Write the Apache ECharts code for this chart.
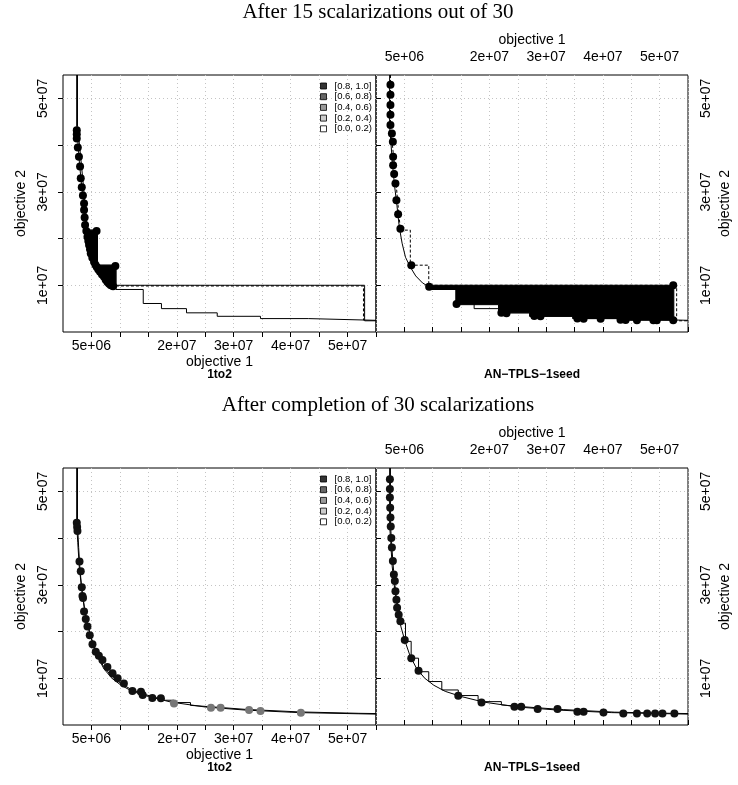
<!DOCTYPE html>
<html><head><meta charset="utf-8">
<script src="https://cdn.jsdelivr.net/npm/echarts@6/dist/echarts.min.js"></script>
<style>html,body{margin:0;padding:0;background:#fff}#c{width:738px;height:785px}</style>
</head><body><div id="c"></div>
<script>
// ---------- values (objective values in millions) ----------
const X_TICKS = [5,10,15,20,25,30,35,40,45,50,55];
const X_LABEL_VALUES = [5,20,30,40,50];
const X_LABEL_TEXT = ['5e+06','2e+07','3e+07','4e+07','5e+07'];
const Y_TICKS = [10,20,30,40,50];
const Y_LABEL_VALUES = [10,30,50];
const Y_LABEL_TEXT = ['1e+07','3e+07','5e+07'];
const legendLevels = ['[0.8, 1.0]','[0.6, 0.8)','[0.4, 0.6)','[0.2, 0.4)','[0.0, 0.2)'];
const algorithms = ['1to2','AN\u2212TPLS\u22121seed'];
const titles = ['After 15 scalarizations out of 30','After completion of 30 scalarizations'];

// top half (after 15 scalarizations)
const topBest = [[2.4,55],[2.4,44],[2.6,41],[2.9,36],[3.3,31],[3.7,27],[4.1,22.5],[4.6,19],[5.2,16],[6.0,14],[7.0,12],[8.2,10.5],[9.3,9.7],[9.3,9.1],[14.1,9.1],[14.1,6.1],[17.3,6.1],[17.3,5.0],[21.7,5.0],[21.7,4.1],[27.1,4.1],[27.1,3.36],[34.7,3.36],[34.7,2.87],[43.1,2.87],[43.1,2.5],[55,2.5]];
const topWorst = [[2.55,55],[2.55,44],[2.9,40],[3.3,35],[3.6,31],[3.9,27],[4.3,21.8],[6.05,21.8],[6.05,14.3],[9.3,14.3],[9.3,10.0],[53.0,10.0],[53.0,2.4],[55,2.4]];
const topMedianLeft = [[9.3,9.85],[52.8,9.85],[52.8,2.5]];
const topFillLeft = [[4.0,21.8],[6.05,21.8],[6.05,14.3],[9.3,14.3],[9.3,9.7],[8.2,10.5],[7.0,12],[6.0,14],[5.2,16],[4.6,19],[4.1,21.8]];
const topFillRight = [[9.3,10.0],[52.5,10.0],[52.5,2.5],[43.1,2.5],[43.1,2.87],[34.7,2.87],[34.7,3.36],[27.1,3.36],[27.1,4.1],[21.6,4.1],[21.6,5.85],[14.1,5.85],[14.1,9.1],[9.3,9.1]];
const topDotsLeft = [[2.42,43.2],[2.42,42.3],[2.42,41.4],[2.6,39.5],[2.8,37.5],[3.0,35.4],[3.12,32.9],[3.3,31],[3.5,29.2],[3.7,27.5],[3.7,26.1],[3.8,24.5],[3.88,22.9],[4.1,21.6],[4.3,20.4],[4.45,19.5],[4.58,18.6],[4.75,17.7],[4.88,16.8],[5.15,15.9],[5.46,15.0],[5.7,14.4],[5.93,13.9],[6.2,13.4],[6.5,12.9],[6.85,12.3],[7.2,11.8],[7.5,11.2],[7.8,10.7],[8.1,10.3],[8.4,10.0],[8.8,9.8],[5.9,21.6],[9.2,14.1]];
const topDotsRight = [[2.55,52.9],[2.55,50.8],[2.55,48.6],[2.55,46.5],[2.55,44.3],[2.8,42.5],[2.97,40.7],[3.02,37.5],[3.02,35.7],[3.2,33.8],[3.43,31.8],[3.6,28.2],[3.9,25.2],[4.3,22.1],[6.22,14.3],[9.37,9.66],[14.2,6.0],[22.1,4.1],[23.0,4.0],[27.9,3.4],[29.0,3.35],[35.5,2.9],[36.6,2.85],[39.6,2.85],[43.1,2.6],[44.0,2.55],[46.0,2.5],[48.9,2.5],[49.5,2.5],[52.4,2.5],[52.4,10.0]];

// bottom half (after completion)
const botBest = [[2.4,55],[2.4,43],[2.6,39],[2.85,34],[3.2,30],[3.55,27],[3.9,24],[4.4,21],[5.1,18],[6.0,14.8],[7.2,12],[8.6,10],[10.2,8.5],[12.2,7.2],[15,6.1],[19,4.9],[25,3.85],[32,3.2],[41.5,2.65],[52,2.4],[55,2.33]];
const botWorstLeft = [[2.55,55],[2.55,43],[2.75,38],[3.0,33],[3.4,28],[3.8,24.5],[4.3,21.5],[5.0,18.5],[5.9,15.5],[7.0,12.8],[8.4,10.6],[10,9],[12,7.6],[14.5,6.5],[18,5.3],[19.5,5.3],[19.5,4.8],[22.4,4.8],[22.4,4.2],[26,3.9],[32,3.35],[41.5,2.8],[52,2.5],[55,2.45]];
const botWorstRight = [[2.55,55],[2.55,43],[2.8,38],[3.1,33],[3.5,28],[3.9,25],[4.3,21.8],[5.2,21.8],[5.2,17.9],[6.2,17.9],[6.2,14.3],[7.5,14.3],[7.5,11.4],[9.3,11.4],[9.3,9.3],[11.6,9.3],[11.6,7.5],[14.5,7.5],[14.5,6.3],[18,6.3],[18,5.0],[22.1,5.0],[22.1,4.3],[26,3.9],[33,3.3],[42,2.75],[52,2.5],[55,2.45]];
const botDotsLeft = [[2.42,43.3],[2.48,42.4],[2.54,41.5],[2.9,35],[3.12,32.9],[3.3,29.5],[3.42,27.6],[3.52,27.2],[3.7,24.3],[4.0,22.7],[4.3,21.1],[4.7,19.2],[5.18,17.3],[5.76,15.7],[6.3,14.8],[6.93,13.9],[7.8,12.4],[8.7,11.1],[9.6,10.0],[10.7,8.9],[12.2,7.3],[13.7,7.1],[14.0,6.4],[15.7,5.8],[17.2,5.7]];
const botDotsLeftGray = [[19.5,4.6],[26.0,3.7],[27.7,3.7],[32.7,3.2],[34.7,2.97],[41.8,2.62]];
const botDotsRight = [[2.45,52.6],[2.45,50.5],[2.45,48.7],[2.5,46.5],[2.55,44.4],[2.6,42.5],[2.7,40],[2.8,38],[2.97,35.1],[3.15,32.2],[3.32,30.8],[3.43,28.6],[3.6,26.8],[3.72,25.1],[4.0,23.6],[4.3,22.2],[5.07,18.2],[6.22,14.3],[7.5,11.6],[14.5,6.28],[18.6,4.84],[24.4,3.9],[25.6,3.9],[28.5,3.4],[32.0,3.4],[35.5,2.85],[36.6,2.85],[40.1,2.7],[43.6,2.47],[46.0,2.47],[47.8,2.47],[49.2,2.47],[50.5,2.47],[52.6,2.47]];

// ---------- styling / layout ----------
const legendColors = ['#000000','#404040','#808080','#bfbfbf','#ffffff'];
const SANS = 'Liberation Sans';
const SERIF = 'Liberation Serif';
const grids = [
  {left:63, top:75, width:313, height:257},
  {left:376, top:75, width:312, height:257},
  {left:63, top:468, width:313, height:257},
  {left:376, top:468, width:312, height:257}
];
const xPos = ['bottom','top','bottom','top'];
const yPos = ['left','right','left','right'];

function xAxis(gi){
  const bottom = xPos[gi]==='bottom';
  return {type:'value', gridIndex:gi, position:xPos[gi], min:0, max:55, interval:5,
    axisLine:{show:false},
    axisTick:{show:true, customValues:X_TICKS, length:5, lineStyle:{color:'#000',width:1}},
    axisLabel:{show:true, customValues:X_LABEL_VALUES, margin:bottom?7:11, fontSize:14, fontFamily:SANS, color:'#000',
      formatter:v=>{const i=X_LABEL_VALUES.indexOf(v);return i<0?'':X_LABEL_TEXT[i];}},
    splitLine:{show:true, lineStyle:{color:'#c4c4c4', width:1, type:[1,3]}},
    name:'objective 1', nameLocation:'middle', nameGap:bottom?23:28,
    nameTextStyle:{fontSize:14, fontFamily:SANS, color:'#000'}};
}
function yAxis(gi){
  const left = yPos[gi]==='left';
  return {type:'value', gridIndex:gi, position:yPos[gi], min:0, max:55, interval:10,
    axisLine:{show:false},
    axisTick:{show:true, customValues:Y_TICKS, length:5, lineStyle:{color:'#000',width:1}},
    axisLabel:{show:true, customValues:Y_LABEL_VALUES, rotate:90, margin:left?13:11, fontSize:14, fontFamily:SANS, color:'#000',
      formatter:v=>{const i=Y_LABEL_VALUES.indexOf(v);return i<0?'':Y_LABEL_TEXT[i];}},
    splitLine:{show:true, lineStyle:{color:'#c4c4c4', width:1, type:[1,3]}},
    name:'objective 2', nameLocation:'middle', nameRotate:90, nameGap:left?35:30,
    nameTextStyle:{fontSize:14, fontFamily:SANS, color:'#000'}};
}
function lineS(gi, pts, color, type, z){
  return {type:'line', xAxisIndex:gi, yAxisIndex:gi, data:pts, symbol:'none', silent:true,
    lineStyle:{color:color, width:1, type:type||'solid'}, z:z||3, clip:true};
}
function dotS(gi, pts, color){
  return {type:'scatter', xAxisIndex:gi, yAxisIndex:gi, data:pts, symbol:'circle', symbolSize:8, silent:true,
    itemStyle:{color:color, opacity:1}, z:5, clip:true};
}
function polyS(gi, pts, fill){
  return {type:'custom', xAxisIndex:gi, yAxisIndex:gi, data:pts, silent:true, z:2, clip:true,
    renderItem:(params, api)=> params.dataIndex!==0 ? null : {
      type:'polygon', shape:{points:pts.map(p=>api.coord(p))},
      style:{fill:fill, stroke:'#000', lineWidth:1}}};
}

const series = [];
legendLevels.forEach((n,i)=>series.push({type:'scatter', name:n, xAxisIndex:0, yAxisIndex:0, data:[],
  itemStyle:{color:legendColors[i], borderColor:'#000', borderWidth:1}}));
// top-left (1to2)
series.push(polyS(0, topFillLeft, '#000'));
series.push(lineS(0, topWorst, '#000'));
series.push(lineS(0, topMedianLeft, '#000', [3,2]));
series.push(lineS(0, topBest, '#000'));
series.push(dotS(0, topDotsLeft, '#000'));
// top-right (AN-TPLS)
series.push(polyS(1, topFillRight, '#000'));
series.push(lineS(1, topWorst, '#000', [3,2]));
series.push(lineS(1, topBest, '#000'));
series.push(dotS(1, topDotsRight, '#000'));
// bottom-left
series.push(lineS(2, botWorstLeft, '#000'));
series.push(lineS(2, botBest, '#000'));
series.push(dotS(2, botDotsLeft, '#111'));
series.push(dotS(2, botDotsLeftGray, '#777'));
// bottom-right
series.push(lineS(3, botWorstRight, '#000'));
series.push(lineS(3, botBest, '#000'));
series.push(dotS(3, botDotsRight, '#111'));

const graphic = [];
titles.forEach((t,i)=>graphic.push({type:'text', x:378, y:12+393*i,
  style:{text:t, fontSize:21, fontFamily:SERIF, fill:'#000', textAlign:'center', textVerticalAlign:'middle'}}));
[0,1].forEach(h=>{
  graphic.push({type:'text', x:219.5, y:375+393*h, style:{text:algorithms[0], fontSize:12, fontWeight:'bold', fontFamily:SANS, fill:'#000', textAlign:'center', textVerticalAlign:'middle'}});
  graphic.push({type:'text', x:532, y:375+393*h, style:{text:algorithms[1], fontSize:12, fontWeight:'bold', fontFamily:SANS, fill:'#000', textAlign:'center', textVerticalAlign:'middle'}});
});

const chart = echarts.init(document.getElementById('c'), null, {renderer:'canvas'});
chart.setOption({
  animation:false,
  backgroundColor:'#fff',
  grid: grids.map(g=>Object.assign({show:true, borderColor:'#000', borderWidth:1, backgroundColor:'transparent', containLabel:false}, g)),
  xAxis: [0,1,2,3].map(xAxis),
  yAxis: [0,1,2,3].map(yAxis),
  legend: [0,1].map(h=>({
    data: legendLevels.map((n,i)=>({name:n, icon:'rect', itemStyle:{color:legendColors[i], borderColor:'#000', borderWidth:1}})),
    orient:'vertical', left:320, top:81+393*h, padding:0,
    itemWidth:6, itemHeight:6, itemGap:0.7, selectedMode:false,
    textStyle:{fontSize:9.5, fontFamily:SANS, color:'#000', lineHeight:10, padding:[0,0,0,3]}})),
  series: series,
  graphic: graphic
});
</script></body></html>
